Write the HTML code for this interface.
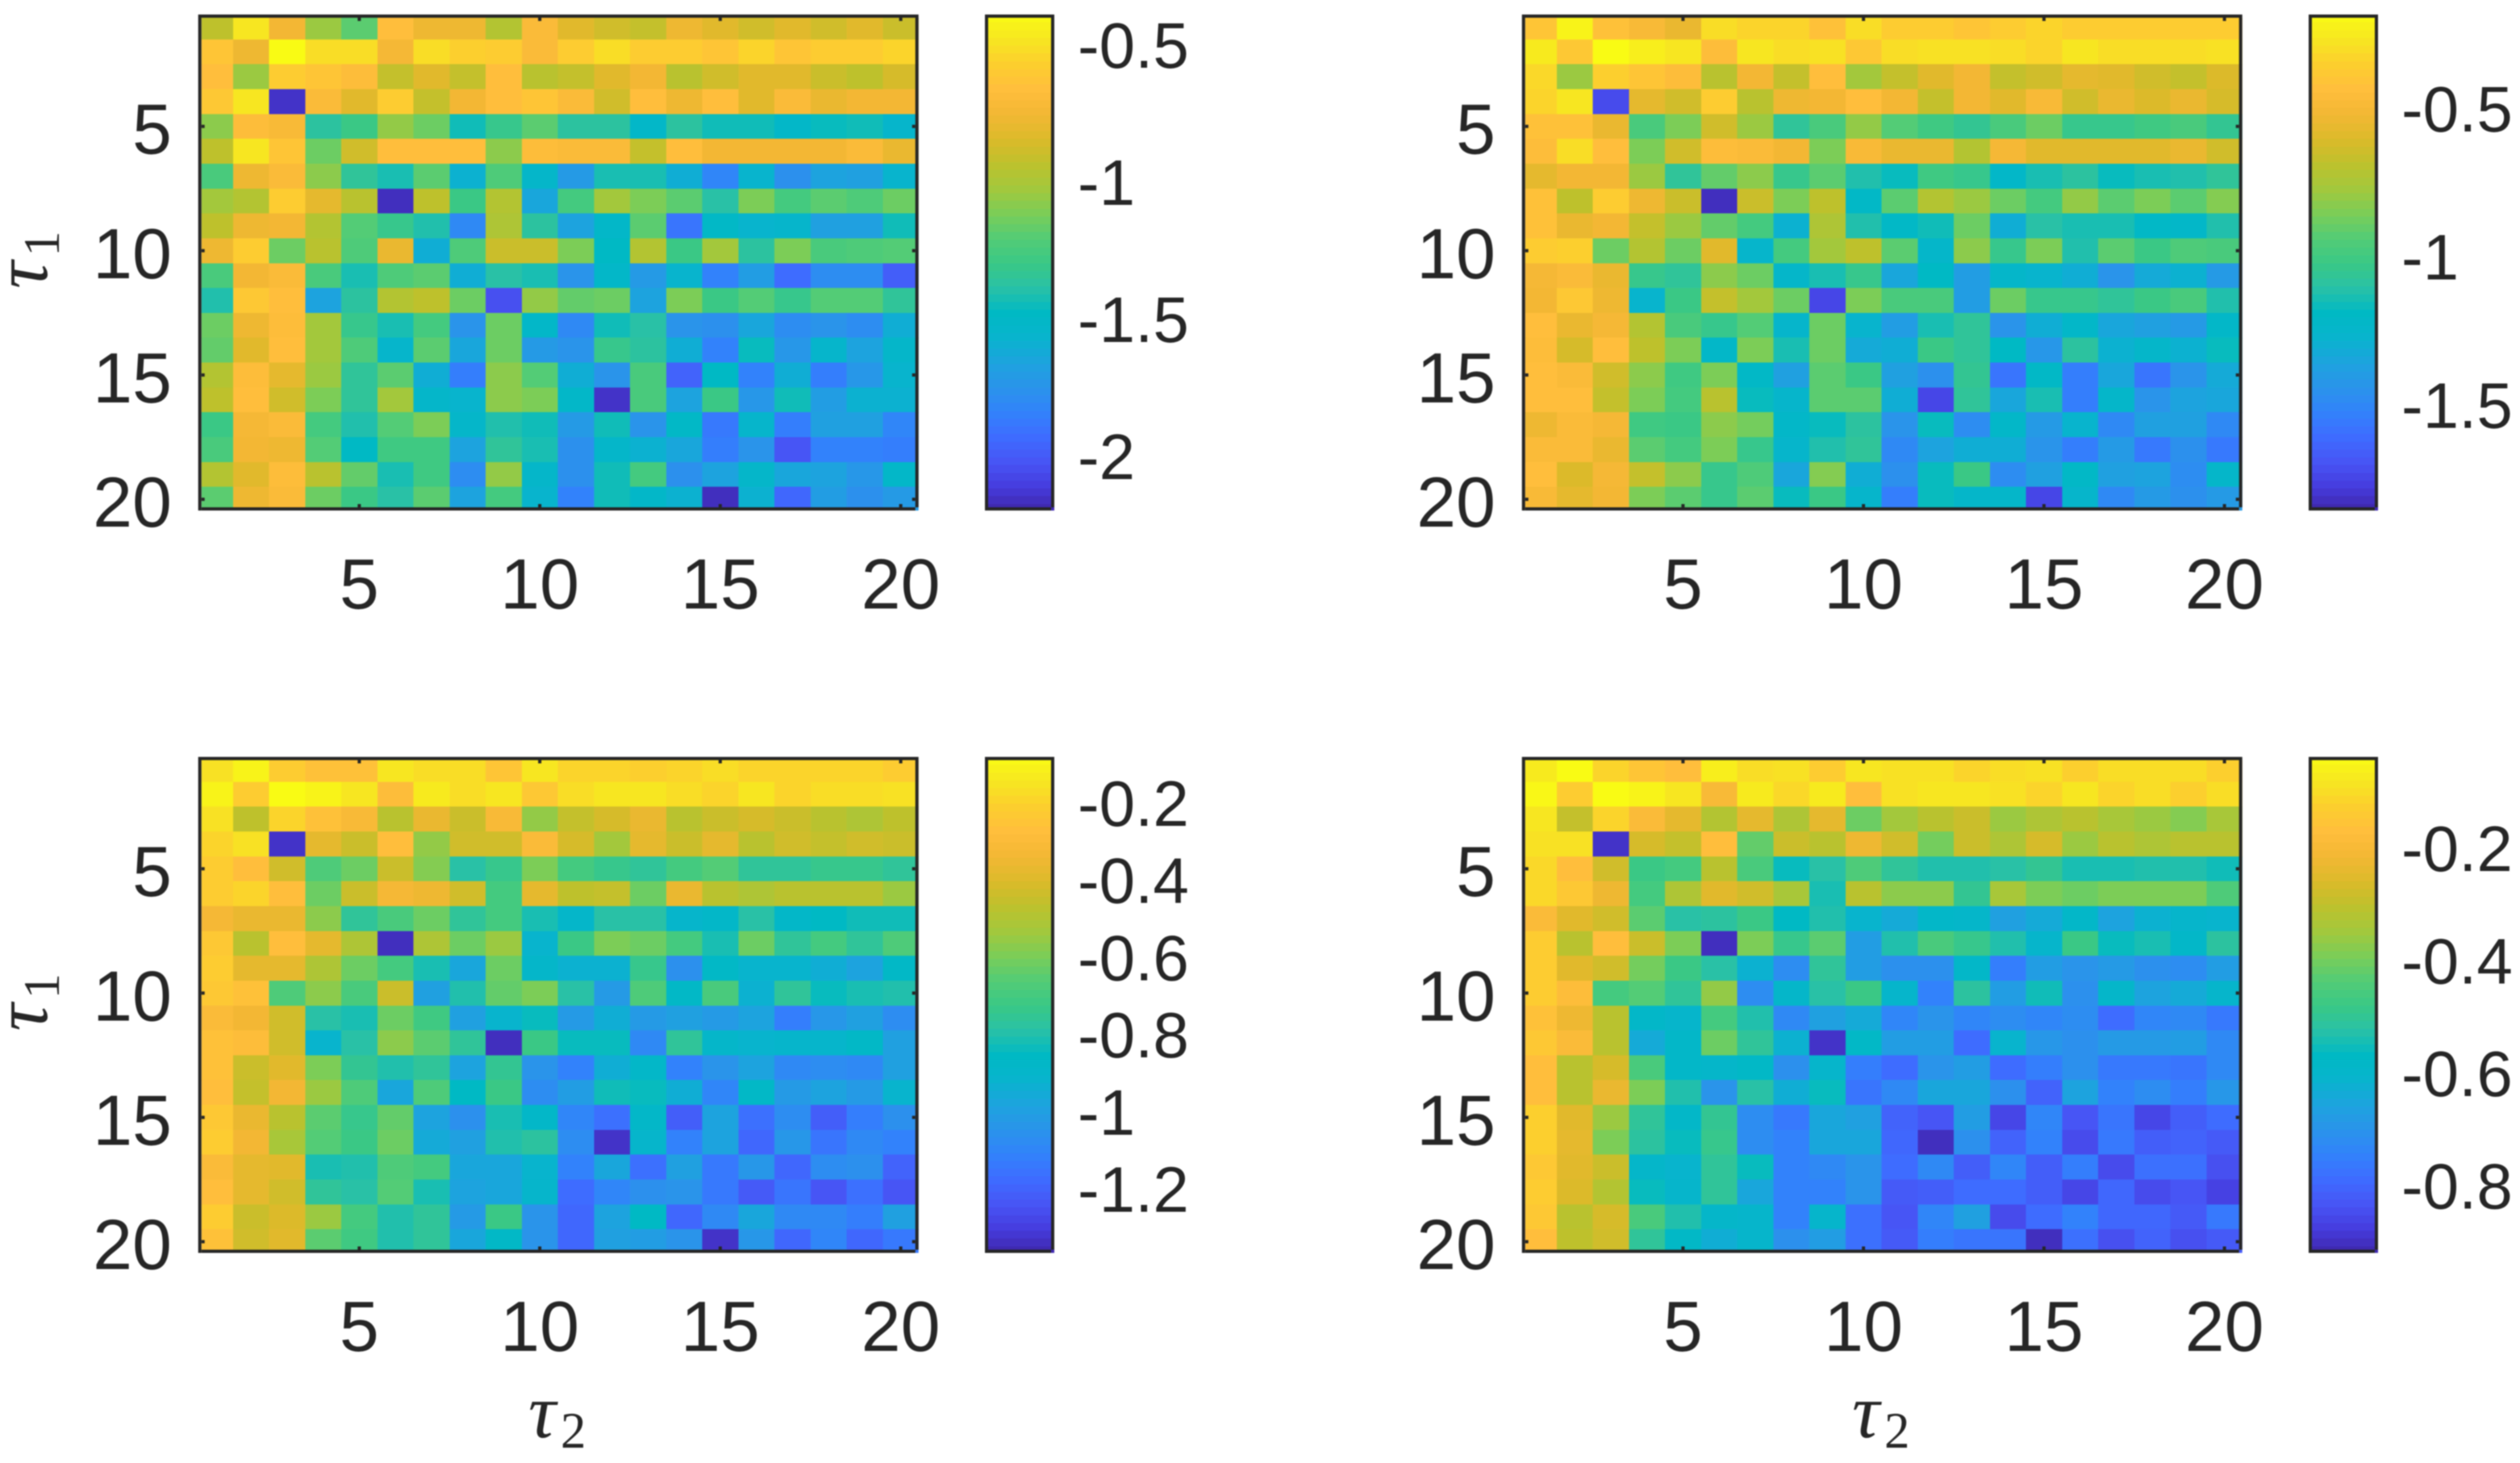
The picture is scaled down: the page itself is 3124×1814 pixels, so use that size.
<!DOCTYPE html>
<html lang="en">
<head>
<meta charset="utf-8">
<title>Heatmaps over tau1 and tau2</title>
<style>
html,body{margin:0;padding:0;background:#fff;}
svg{display:block;filter:blur(0.7px);}
text{font-family:"Liberation Sans",sans-serif;fill:#262626;}
.sym{font-family:"Liberation Serif",serif;font-style:italic;}
</style>
</head>
<body>
<svg id="figure" xmlns="http://www.w3.org/2000/svg" width="3124" height="1814" viewBox="0 0 3124 1814">
  <rect x="0" y="0" width="3124" height="1814" fill="#ffffff"/>
  <g id="panels"></g>
  <g transform="translate(58 358) rotate(-90)"><text class="sym" font-size="95" x="0" y="0">τ</text><text style="font-family:'Liberation Serif',serif" font-size="63" x="40" y="15">1</text></g>
  <g transform="translate(58 1278.5) rotate(-90)"><text class="sym" font-size="95" x="0" y="0">τ</text><text style="font-family:'Liberation Serif',serif" font-size="63" x="40" y="15">1</text></g>
  <g transform="translate(655 1782)"><text class="sym" font-size="95" x="0" y="0">τ</text><text style="font-family:'Liberation Serif',serif" font-size="63" x="40" y="13">2</text></g>
  <g transform="translate(2296 1782)"><text class="sym" font-size="95" x="0" y="0">τ</text><text style="font-family:'Liberation Serif',serif" font-size="63" x="40" y="13">2</text></g>
</svg>
<script>
// Heatmap cells: position of each cell on its colour bar (0 = bottom, 1 = top).
const z1 = [
[.70,.95,.80,.64,.56,.85,.79,.79,.68,.83,.76,.73,.71,.79,.76,.73,.76,.73,.76,.72],
[.87,.79,1.0,.93,.93,.81,.93,.90,.89,.83,.89,.93,.89,.89,.87,.91,.87,.89,.89,.91],
[.85,.64,.89,.87,.84,.71,.76,.71,.85,.69,.71,.76,.80,.69,.73,.76,.76,.72,.70,.74],
[.88,.95,.03,.83,.76,.89,.71,.80,.85,.87,.83,.73,.85,.79,.85,.76,.83,.78,.80,.80],
[.62,.84,.82,.46,.50,.63,.58,.42,.49,.56,.46,.46,.38,.46,.42,.42,.38,.41,.42,.36],
[.70,.95,.87,.58,.73,.85,.85,.85,.62,.84,.83,.83,.71,.85,.80,.80,.80,.80,.83,.78],
[.53,.79,.83,.62,.47,.43,.56,.34,.54,.37,.27,.43,.43,.33,.21,.35,.24,.30,.29,.35],
[.65,.68,.89,.77,.69,.02,.70,.50,.68,.31,.52,.65,.60,.56,.45,.60,.52,.56,.54,.58],
[.70,.79,.80,.68,.55,.49,.44,.22,.67,.46,.30,.38,.56,.17,.39,.35,.36,.29,.29,.42],
[.79,.89,.58,.69,.54,.78,.33,.54,.72,.72,.60,.40,.68,.50,.65,.46,.60,.53,.54,.55],
[.53,.80,.83,.53,.43,.54,.56,.33,.45,.43,.25,.38,.27,.35,.20,.28,.15,.23,.23,.12],
[.44,.88,.85,.30,.46,.68,.70,.58,.09,.63,.57,.58,.30,.60,.50,.55,.49,.55,.55,.47],
[.58,.79,.84,.65,.49,.43,.52,.25,.58,.38,.22,.42,.45,.25,.24,.31,.23,.25,.23,.33],
[.57,.76,.85,.65,.54,.36,.56,.31,.58,.27,.25,.49,.46,.33,.20,.41,.26,.36,.30,.37],
[.68,.84,.77,.64,.47,.56,.33,.19,.62,.55,.33,.25,.53,.13,.40,.20,.33,.19,.26,.35],
[.70,.85,.73,.60,.47,.65,.37,.35,.62,.60,.38,.03,.53,.30,.50,.26,.42,.28,.34,.34],
[.50,.81,.83,.52,.44,.55,.60,.37,.44,.42,.27,.42,.25,.39,.18,.36,.19,.29,.29,.21],
[.53,.80,.79,.55,.40,.51,.51,.30,.47,.43,.24,.37,.34,.31,.19,.25,.10,.20,.20,.19],
[.68,.76,.84,.69,.57,.43,.51,.23,.63,.37,.24,.42,.52,.24,.30,.37,.31,.30,.26,.38],
[.56,.79,.83,.58,.50,.45,.56,.30,.52,.35,.20,.42,.38,.34,.02,.34,.14,.28,.24,.27]
];
const z2 = [
[.87,.98,.86,.82,.78,.93,.91,.91,.86,.93,.89,.89,.87,.89,.91,.89,.89,.89,.89,.89],
[.96,.88,1.0,.97,.95,.84,.95,.93,.94,.88,.93,.94,.94,.93,.91,.95,.93,.93,.93,.94],
[.92,.64,.90,.87,.84,.69,.80,.71,.85,.65,.71,.76,.80,.71,.73,.77,.76,.73,.71,.75],
[.91,.95,.08,.77,.73,.89,.69,.79,.80,.85,.80,.71,.80,.76,.82,.73,.78,.75,.78,.74],
[.86,.86,.78,.53,.60,.73,.64,.47,.53,.63,.55,.51,.48,.53,.58,.49,.49,.51,.53,.48],
[.84,.93,.85,.60,.73,.84,.83,.80,.60,.82,.78,.78,.68,.81,.76,.76,.76,.76,.78,.73],
[.77,.80,.80,.64,.47,.57,.62,.49,.56,.44,.41,.51,.49,.38,.43,.46,.41,.43,.44,.47],
[.86,.70,.89,.79,.72,.02,.72,.60,.70,.39,.56,.68,.64,.58,.52,.63,.56,.60,.56,.61],
[.86,.78,.80,.71,.64,.57,.52,.34,.67,.44,.39,.42,.58,.33,.45,.43,.43,.39,.38,.44],
[.89,.90,.58,.68,.58,.76,.36,.52,.65,.70,.56,.37,.62,.49,.60,.44,.56,.50,.54,.53],
[.81,.83,.78,.49,.47,.62,.58,.37,.43,.49,.31,.40,.28,.37,.35,.33,.25,.32,.34,.27],
[.80,.88,.79,.35,.50,.71,.65,.58,.07,.60,.53,.53,.28,.58,.49,.49,.47,.50,.53,.44],
[.85,.78,.81,.68,.53,.49,.55,.36,.58,.35,.28,.43,.47,.25,.33,.38,.31,.29,.27,.38],
[.84,.74,.85,.70,.60,.38,.60,.43,.58,.32,.33,.50,.47,.40,.26,.46,.34,.37,.34,.41],
[.85,.83,.73,.62,.51,.60,.39,.29,.56,.50,.29,.24,.48,.17,.39,.19,.31,.17,.25,.32],
[.85,.85,.71,.60,.52,.69,.41,.36,.56,.56,.33,.07,.47,.31,.43,.19,.37,.25,.30,.31],
[.79,.83,.81,.51,.50,.62,.59,.38,.41,.46,.25,.41,.23,.38,.27,.35,.22,.29,.29,.22],
[.83,.83,.78,.56,.52,.60,.49,.36,.44,.47,.22,.30,.33,.33,.25,.19,.27,.18,.24,.18],
[.85,.75,.81,.71,.62,.49,.54,.31,.61,.33,.24,.41,.50,.23,.29,.39,.29,.30,.23,.37],
[.82,.77,.80,.60,.56,.49,.56,.41,.50,.36,.19,.41,.37,.37,.07,.36,.22,.27,.24,.27]
];
const z3 = [
[.94,.98,.89,.86,.86,.95,.93,.93,.87,.95,.91,.91,.90,.91,.93,.91,.91,.91,.91,.89],
[.98,.89,1.0,.98,.95,.84,.96,.93,.95,.88,.93,.95,.95,.93,.91,.95,.91,.93,.93,.94],
[.94,.70,.91,.86,.82,.69,.78,.72,.82,.63,.71,.74,.78,.69,.72,.74,.72,.69,.67,.70],
[.91,.94,.03,.77,.72,.85,.63,.73,.73,.83,.74,.65,.77,.72,.77,.69,.73,.71,.73,.72],
[.89,.85,.73,.54,.58,.72,.61,.45,.49,.60,.52,.49,.47,.52,.55,.47,.47,.49,.49,.47],
[.89,.91,.85,.58,.72,.81,.79,.73,.52,.77,.70,.71,.58,.78,.69,.67,.69,.69,.69,.64],
[.81,.78,.78,.62,.47,.53,.58,.47,.52,.43,.37,.45,.45,.36,.38,.45,.38,.40,.42,.42],
[.88,.69,.85,.77,.67,.02,.67,.58,.64,.35,.50,.60,.58,.52,.43,.58,.47,.52,.47,.54],
[.89,.77,.77,.67,.58,.52,.43,.31,.58,.37,.34,.34,.49,.24,.39,.35,.35,.33,.30,.39],
[.88,.86,.54,.62,.53,.72,.29,.44,.57,.60,.45,.27,.54,.39,.53,.34,.47,.41,.43,.44],
[.83,.80,.73,.45,.43,.58,.51,.29,.35,.41,.27,.33,.27,.29,.27,.30,.19,.26,.29,.23],
[.86,.84,.73,.35,.45,.62,.56,.47,.02,.50,.41,.41,.22,.47,.37,.35,.36,.36,.39,.29],
[.86,.72,.76,.60,.48,.44,.47,.30,.48,.25,.20,.33,.38,.20,.25,.30,.22,.23,.22,.29],
[.85,.71,.80,.64,.54,.31,.54,.40,.50,.23,.28,.42,.41,.33,.21,.39,.27,.30,.27,.35],
[.88,.78,.69,.56,.49,.57,.30,.24,.43,.38,.21,.16,.38,.12,.30,.16,.23,.12,.19,.24],
[.89,.80,.66,.55,.50,.58,.32,.29,.44,.46,.23,.03,.36,.20,.30,.14,.26,.17,.22,.20],
[.83,.77,.76,.43,.44,.54,.52,.31,.31,.35,.20,.31,.16,.29,.18,.26,.14,.23,.24,.13],
[.85,.77,.73,.47,.45,.55,.43,.30,.31,.36,.15,.21,.24,.25,.18,.11,.17,.10,.16,.10],
[.89,.72,.75,.64,.52,.44,.47,.27,.50,.25,.14,.30,.40,.14,.22,.31,.22,.22,.19,.29],
[.86,.73,.76,.56,.51,.44,.47,.31,.39,.25,.14,.29,.28,.25,.03,.26,.14,.21,.14,.18]
];
const z4 = [
[.96,1.0,.91,.87,.85,.97,.93,.94,.89,.95,.94,.94,.91,.93,.94,.90,.93,.93,.93,.90],
[.99,.89,1.0,.98,.95,.82,.96,.92,.96,.85,.94,.95,.95,.94,.91,.95,.91,.93,.90,.93],
[.95,.71,.91,.83,.77,.68,.77,.67,.77,.58,.65,.69,.72,.64,.67,.69,.66,.64,.61,.66],
[.94,.94,.03,.74,.71,.85,.57,.72,.69,.79,.73,.59,.72,.67,.74,.64,.69,.67,.69,.69],
[.92,.85,.73,.50,.52,.69,.53,.41,.45,.54,.47,.44,.44,.45,.48,.43,.43,.44,.44,.42],
[.92,.88,.79,.52,.67,.76,.73,.66,.43,.69,.62,.62,.48,.66,.60,.58,.60,.60,.60,.54],
[.83,.76,.73,.56,.45,.46,.50,.40,.44,.35,.32,.38,.37,.29,.32,.38,.30,.34,.36,.35],
[.89,.69,.85,.72,.60,.02,.60,.49,.56,.28,.44,.53,.49,.44,.36,.50,.41,.43,.38,.46],
[.89,.76,.73,.59,.50,.45,.34,.23,.47,.28,.24,.24,.38,.19,.28,.25,.27,.24,.23,.28],
[.89,.84,.52,.55,.47,.63,.23,.37,.45,.50,.36,.20,.46,.28,.42,.24,.37,.30,.32,.36],
[.86,.79,.69,.38,.36,.52,.44,.22,.29,.32,.21,.25,.21,.23,.21,.23,.15,.21,.22,.18],
[.88,.83,.69,.32,.38,.58,.47,.34,.03,.39,.28,.28,.15,.35,.26,.24,.27,.27,.28,.22],
[.85,.69,.74,.53,.38,.37,.39,.24,.36,.19,.15,.25,.28,.15,.19,.24,.18,.18,.17,.22],
[.85,.69,.78,.60,.44,.25,.45,.33,.41,.17,.22,.31,.31,.24,.13,.30,.20,.23,.19,.26],
[.90,.76,.64,.47,.38,.48,.23,.18,.31,.29,.13,.10,.28,.07,.21,.10,.17,.07,.12,.15],
[.90,.77,.60,.46,.41,.49,.23,.20,.31,.31,.14,.02,.24,.13,.20,.08,.18,.12,.13,.11],
[.88,.76,.72,.37,.35,.47,.41,.20,.22,.25,.15,.22,.12,.21,.12,.19,.08,.16,.16,.09],
[.89,.75,.68,.41,.36,.47,.31,.20,.20,.25,.11,.12,.15,.15,.12,.07,.14,.08,.10,.06],
[.88,.69,.74,.53,.44,.37,.36,.20,.36,.16,.10,.21,.29,.08,.15,.20,.14,.14,.11,.18],
[.85,.70,.73,.47,.39,.33,.36,.24,.28,.16,.11,.19,.17,.17,.02,.16,.09,.13,.09,.11]
];
const xTicks = [5, 10, 15, 20];
const yTicks = [5, 10, 15, 20];
const clim1 = [-2.2015, -0.388];
const clim2 = [-1.86, -0.181];
const clim3 = [-1.368, -0.08];
const clim4 = [-0.921, -0.037];
const cbTicks1 = [-0.5, -1, -1.5, -2];
const cbTicks2 = [-0.5, -1, -1.5];
const cbTicks3 = [-0.2, -0.4, -0.6, -0.8, -1, -1.2];
const cbTicks4 = [-0.2, -0.4, -0.6, -0.8];

const NS = 'http://www.w3.org/2000/svg';
const INK = '#262626';
const parula = [[62,38,168],[70,60,222],[71,85,245],[62,108,255],[50,130,251],[42,148,234],[29,163,222],[8,180,205],[0,185,196],[41,193,166],[58,200,133],[83,204,118],[124,205,87],[163,200,60],[190,193,44],[220,186,42],[243,183,52],[255,190,60],[252,207,46],[247,230,33],[249,251,20]];
function colorAt(t) {
  const u = Math.max(0, Math.min(1, t)) * (parula.length - 1);
  const i = Math.min(parula.length - 2, Math.floor(u));
  const f = u - i;
  const c = parula[i].map((v, k) => Math.round(v + (parula[i + 1][k] - v) * f));
  return 'rgb(' + c.join(',') + ')';
}
function svgEl(tag, attrs, parent) {
  const el = document.createElementNS(NS, tag);
  for (const k in attrs) el.setAttribute(k, attrs[k]);
  parent.appendChild(el);
  return el;
}
function drawFrame(g, x0, y0, x1, y1) {
  // Four 4px sides; the outer bottom-right corner stays open as in the reference.
  const sides = [[x0 - 4, y0 - 4, x1 - x0 + 8, 4], [x0 - 4, y0, 4, y1 - y0 + 4], [x1, y0, 4, y1 - y0], [x0, y1, x1 - x0, 4]];
  sides.forEach(s => {
    const r = svgEl('rect', {x: s[0], y: s[1], width: s[2], height: s[3], fill: INK}, g);
    
    
  });
}
function drawPanel(root, id, dx, dy, z, clim, cbTicks) {
  const ix0 = 249.7 + dx, ix1 = 1134.7 + dx, iy0 = 22 + dy, iy1 = 629 + dy;
  const dataX0 = 244 + dx, dataX1 = 1139 + dx, dataY0 = 18 + dy, dataY1 = 634.5 + dy;
  const nCols = z[0].length, nRows = z.length;
  const cw = (dataX1 - dataX0) / nCols, ch = (dataY1 - dataY0) / nRows;
  const xAxis = v => dataX0 + (v - 0.5) * cw;
  const yAxis = v => dataY0 + (v - 0.5) * ch;

  const panel = svgEl('g', {}, root);
  
  

  const clipId = 'clip' + id;
  const defs = svgEl('defs', {}, panel);
  const clip = svgEl('clipPath', {id: clipId}, defs);
  svgEl('rect', {x: ix0, y: iy0, width: ix1 - ix0 + 4, height: iy1 - iy0 + 4}, clip);

  const cells = svgEl('g', {'clip-path': 'url(#' + clipId + ')', 'shape-rendering': 'crispEdges'}, panel);
  
  
  z.forEach((row, r) => row.forEach((val, c) => {
    const cell = svgEl('rect', {x: dataX0 + c * cw, y: dataY0 + r * ch, width: cw + 0.6, height: ch + 0.6, fill: colorAt(val)}, cells);
    
    
  }));

  drawFrame(panel, ix0, iy0, ix1, iy1);

  xTicks.forEach(v => {
    const x = xAxis(v);
    const a = svgEl('rect', {x: x - 2, y: iy1 - 4, width: 4, height: 4, fill: INK}, panel);
    
    
    const b = svgEl('rect', {x: x - 2, y: iy0, width: 4, height: 4, fill: INK}, panel);
    
    
    const t = svgEl('text', {x: x, y: 754.5 + dy, 'font-size': 88, 'text-anchor': 'middle'}, panel);
    
    
    t.textContent = String(v);
  });
  yTicks.forEach(v => {
    const y = yAxis(v);
    const a = svgEl('rect', {x: ix0, y: y - 2, width: 4, height: 4, fill: INK}, panel);
    
    
    const b = svgEl('rect', {x: ix1 - 4, y: y - 2, width: 4, height: 4, fill: INK}, panel);
    
    
    const t = svgEl('text', {x: 213 + dx, y: y + 34, 'font-size': 88, 'text-anchor': 'end'}, panel);
    
    
    t.textContent = String(v);
  });

  // Colour bar
  const bx0 = 1225 + dx, bx1 = 1303 + dx;
  const barAxis = v => dataY0 + (clim[1] - v) / (clim[1] - clim[0]) * (dataY1 - dataY0);
  const bar = svgEl('g', {'clip-path': 'url(#' + clipId + 'b)', 'shape-rendering': 'crispEdges'}, panel);
  
  
  const clipB = svgEl('clipPath', {id: clipId + 'b'}, defs);
  svgEl('rect', {x: bx0, y: iy0 - 4, width: bx1 - bx0 + 4, height: iy1 - iy0 + 8}, clipB);
  const bands = 64;
  for (let i = 0; i < bands; i++) {
    const h = (dataY1 - dataY0) / bands;
    const band = svgEl('rect', {x: bx0, y: dataY0 + i * h, width: bx1 - bx0 + 4, height: h + 0.6, fill: colorAt(1 - (i + 0.5) / bands)}, bar);
    
    
  }
  drawFrame(panel, bx0, iy0, bx1, iy1);
  cbTicks.forEach(v => {
    const t = svgEl('text', {x: 1336 + dx, y: barAxis(v) + 28, 'font-size': 80}, panel);
    
    
    t.textContent = String(v);
  });
}
const root = document.getElementById('panels');
drawPanel(root, 'top-left', 0, 0, z1, clim1, cbTicks1);
drawPanel(root, 'top-right', 1641, 0, z2, clim2, cbTicks2);
drawPanel(root, 'bottom-left', 0, 920.5, z3, clim3, cbTicks3);
drawPanel(root, 'bottom-right', 1641, 920.5, z4, clim4, cbTicks4);
</script>
</body>
</html>
